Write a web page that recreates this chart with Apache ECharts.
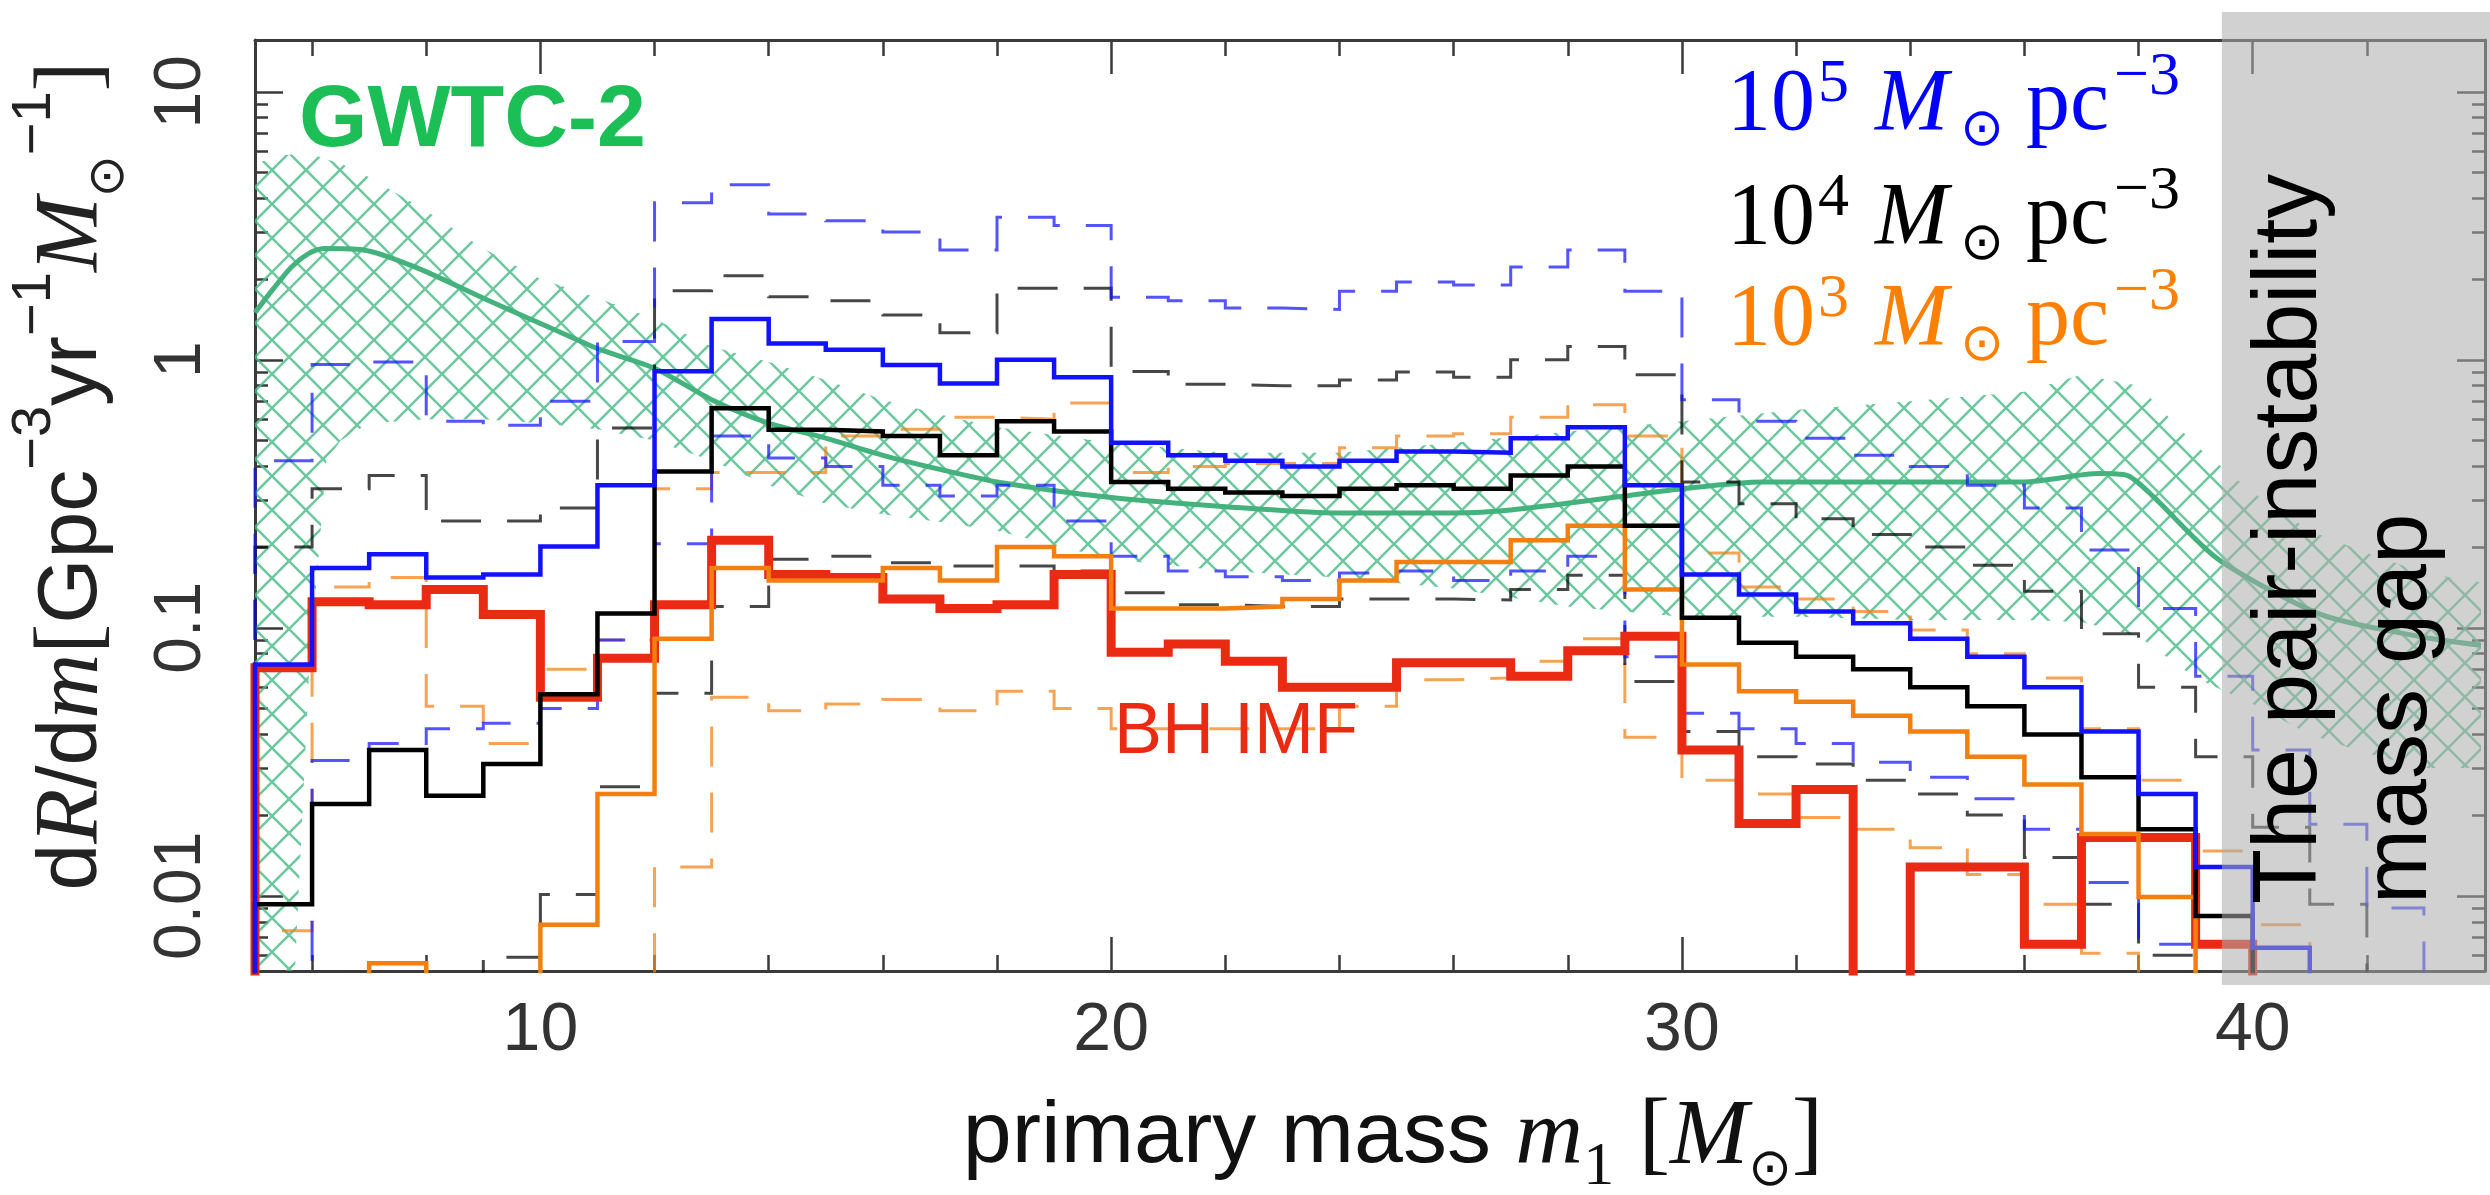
<!DOCTYPE html>
<html>
<head>
<meta charset="utf-8">
<script src="https://cdn.jsdelivr.net/npm/echarts@6/dist/echarts.min.js"></script>
<style>html,body{margin:0;padding:0;background:#fff}#c{width:2490px;height:1195px}</style>
</head>
<body>
<div id="c"></div>
<script>
// ---------------- data ----------------
// histogram bins of 1 Msun, first bin [5,6], last bin [43,44]
const binStart = 5;
const imfRed   = [0.071,0.125,0.122,0.139,0.112,0.055,0.077,0.122,0.212,0.158,0.154,0.128,0.118,0.122,0.158,0.081,0.087,0.075,0.060,0.060,0.074,0.074,0.066,0.082,0.093,0.035,0.0186,0.0249,0,0.0128,0.0128,0.0066,0.0165,0.0165,0.0066,0,0,0,0];
const rho5     = [0.073,0.167,0.188,0.154,0.158,0.201,0.34,0.906,1.42,1.15,1.09,0.955,0.815,1.0,0.86,0.49,0.44,0.42,0.40,0.42,0.455,0.45,0.51,0.56,0.34,0.158,0.133,0.115,0.104,0.091,0.078,0.060,0.041,0.024,0.0128,0.0064,0,0,0];
const rho5Hi   = [0.42,0.96,0.98,0.59,0.57,0.70,1.17,3.85,4.5,3.5,3.3,3.0,2.57,3.4,3.17,1.71,1.66,1.56,1.54,1.8,1.95,1.9,2.22,2.57,1.8,0.71,0.59,0.51,0.44,0.40,0.34,0.28,0.195,0.118,0.066,0.035,0.0185,0.009,0];
const rho5Lo   = [0,0.032,0.037,0.042,0.044,0.05,0.09,0.206,0.52,0.43,0.40,0.34,0.31,0.34,0.25,0.185,0.163,0.155,0.15,0.16,0.163,0.15,0.163,0.185,0.078,0.048,0.042,0.037,0.0315,0.0277,0.023,0.0177,0.0112,0.0066,0,0,0,0,0];
const rho4     = [0.0093,0.022,0.035,0.0236,0.031,0.0565,0.113,0.383,0.66,0.548,0.54,0.52,0.44,0.59,0.54,0.35,0.33,0.32,0.31,0.33,0.34,0.33,0.37,0.40,0.24,0.109,0.088,0.078,0.070,0.060,0.051,0.040,0.0277,0.0177,0.0084,0,0,0,0];
const rho4Hi   = [0.2,0.33,0.37,0.25,0.25,0.28,0.556,1.81,2.06,1.72,1.66,1.47,1.26,1.85,1.85,0.905,0.81,0.80,0.80,0.84,0.90,0.86,1.0,1.12,0.88,0.35,0.29,0.255,0.223,0.20,0.171,0.137,0.095,0.06,0.033,0.018,0.0093,0,0];
const rho4Lo   = [0,0,0,0,0.0059,0.0101,0.0255,0.057,0.12,0.18,0.185,0.175,0.17,0.17,0.163,0.135,0.122,0.12,0.12,0.128,0.128,0.127,0.139,0.157,0.063,0.041,0.033,0.031,0.027,0.024,0.020,0.0139,0.0093,0.006,0,0,0,0,0];
const rho3     = [0,0,0.0056,0,0,0.0078,0.024,0.091,0.167,0.15,0.15,0.167,0.15,0.20,0.185,0.118,0.118,0.12,0.128,0.15,0.176,0.176,0.212,0.24,0.139,0.073,0.058,0.053,0.047,0.041,0.033,0.026,0.017,0.0099,0,0,0,0,0];
const rho3Hi   = [0.0074,0.142,0.154,0.051,0.037,0.07,0.09,0.33,0.38,0.38,0.52,0.55,0.61,0.6,0.69,0.38,0.40,0.41,0.41,0.47,0.52,0.53,0.61,0.68,0.52,0.19,0.142,0.128,0.115,0.098,0.080,0.065,0.042,0.027,0.0147,0.0078,0,0,0];
const rho3Lo   = [0,0,0,0,0,0,0,0.0128,0.055,0.049,0.052,0.054,0.049,0.058,0.05,0.042,0.042,0.042,0.042,0.051,0.064,0.065,0.075,0.091,0.039,0.027,0.024,0.0196,0.0177,0.0151,0.012,0.0093,0.0061,0,0,0,0,0,0];

// GWTC-2 median and 90% band
const medMass = [5,5.33,5.64,5.95,6.2,6.9,7.8,9.1,10.3,11,12,13,14,15,16,17,18,20,22,24,26,27,29,30,31.4,33,36,37.3,37.8,38.25,39.4,41.2,42.9,44];
const medRate = [1.5,1.85,2.22,2.5,2.6,2.57,2.22,1.66,1.28,1.1,0.93,0.71,0.58,0.51,0.44,0.39,0.35,0.306,0.283,0.268,0.268,0.275,0.31,0.33,0.35,0.35,0.35,0.376,0.37,0.31,0.18,0.112,0.093,0.086];
const bandMass = [5,5.5,5.7,5.95,6.25,6.5,7,8,9,10,11,12,13,14,15,16,17,18,20,22,24,26,28,30,32,34,36,37,38,39,40,41,42,43,44];
const bandHigh = [5.4,5.8,5.85,5.9,5.6,5.4,4.8,3.6,2.6,2.0,1.7,1.42,1.12,0.98,0.84,0.71,0.625,0.56,0.49,0.45,0.45,0.49,0.54,0.59,0.65,0.70,0.76,0.88,0.80,0.48,0.32,0.23,0.19,0.16,0.148];
const bandLow  = [0.00525,0.00525,0.00525,0.07,0.42,0.5,0.58,0.6,0.6,0.58,0.55,0.5,0.42,0.34,0.29,0.265,0.248,0.23,0.18,0.163,0.154,0.14,0.12,0.11,0.11,0.107,0.107,0.105,0.093,0.065,0.052,0.04,0.034,0.03,0.03];

const gapStart = 39.46;          // left edge of the pair-instability gap shading
const xMajorTicks = [10,20,30,40];
const xMinorTicks = [6,8,12,14,16,18,22,24,26,28,32,34,36,38,42];
const yMajorTicks = [0.01,0.1,1,10];
const yMajorLabels = ['0.01','0.1','1','10'];
const yDecades = [0.001,0.01,0.1,1];

// ---------------- helpers ----------------
const X_MIN = 5, X_MAX = 44.07, Y_MIN = 0.00524, Y_MAX = 15.6, FLOOR = 1e-4;
const yMinorTicks = [];
yDecades.forEach(d => { for (let k = 2; k <= 9; k++) { const v = d * k; if (v > Y_MIN && v < Y_MAX) yMinorTicks.push(+v.toPrecision(3)); } });

function stepData(vals) {
  const out = [[binStart, FLOOR]];
  vals.forEach((v, i) => out.push([binStart + i, v > 0 ? v : FLOOR]));
  const last = vals[vals.length - 1];
  out.push([binStart + vals.length, last > 0 ? last : FLOOR]);
  return out;
}
function makeHatch() {
  const s = 34, c = document.createElement('canvas');
  c.width = s; c.height = s;
  const g = c.getContext('2d');
  g.strokeStyle = 'rgba(78,188,138,0.82)';
  g.lineWidth = 2.6;
  g.beginPath();
  for (const o of [-s, 0, s]) {
    g.moveTo(o - 3, -3); g.lineTo(o + s + 3, s + 3);
    g.moveTo(o + s + 3, -3); g.lineTo(o - 3, s + 3);
  }
  g.stroke();
  return c;
}
const hatch = makeHatch();

const FRAME = '#3a3a3a';
const C_BLUE = '#1212ff', C_BLACK = '#000000', C_ORANGE = '#f27f10', C_RED = '#ea2a12', C_GREEN = '#43b27d';

function histSeries(name, vals, color, width, dashed, z) {
  return {
    name, type: 'line', step: 'end', data: stepData(vals),
    showSymbol: false, symbol: 'none', silent: true, clip: true, z,
    lineStyle: { color, width, type: dashed ? [40, 26] : 'solid', opacity: dashed ? 0.72 : 1, join: 'miter' }
  };
}

function xAxisDef(pos, ticks, len, showLine, showLabel) {
  return {
    type: 'value', position: pos, min: X_MIN, max: X_MAX,
    axisLine: { show: showLine, onZero: false, lineStyle: { color: FRAME, width: 3 } },
    axisTick: { show: true, inside: true, length: len, customValues: ticks, lineStyle: { color: FRAME, width: 2.5 } },
    axisLabel: showLabel ? { show: true, customValues: ticks, fontSize: 68, color: '#333', fontFamily: 'Liberation Sans', margin: 26 } : { show: false },
    splitLine: { show: false }
  };
}
function yAxisDef(pos, ticks, len, showLine) {
  return {
    type: 'log', logBase: 10, position: pos, min: Y_MIN, max: Y_MAX,
    axisLine: { show: showLine, onZero: false, lineStyle: { color: FRAME, width: 3 } },
    axisTick: { show: true, inside: true, length: len, customValues: ticks, lineStyle: { color: FRAME, width: 2.5 } },
    axisLabel: { show: false },
    splitLine: { show: false }
  };
}

const chart = echarts.init(document.getElementById('c'), null, { renderer: 'canvas', width: 2490, height: 1195 });

const option = {
  animation: false,
  backgroundColor: '#ffffff',
  grid: { left: 255, right: 5, top: 40, bottom: 224, containLabel: false },
  xAxis: [
    xAxisDef('bottom', xMajorTicks, 34, true, true),
    xAxisDef('bottom', xMinorTicks, 16, false, false),
    xAxisDef('top', xMajorTicks, 34, true, false),
    xAxisDef('top', xMinorTicks, 16, false, false)
  ],
  yAxis: [
    yAxisDef('left', yMajorTicks, 28, true),
    yAxisDef('left', yMinorTicks, 13, false),
    yAxisDef('right', yMajorTicks, 28, true),
    yAxisDef('right', yMinorTicks, 13, false)
  ],
  series: [
    {
      name: 'GWTC-2 band', type: 'custom', silent: true, z: 1,
      data: [[bandMass[0], bandHigh[0]]],
      renderItem: (params, api) => {
        const pts = [];
        for (let i = 0; i < bandMass.length; i++) pts.push(api.coord([bandMass[i], bandHigh[i]]));
        for (let i = bandMass.length - 1; i >= 0; i--) pts.push(api.coord([bandMass[i], bandLow[i]]));
        return { type: 'polygon', shape: { points: pts }, style: { fill: { image: hatch, repeat: 'repeat' }, stroke: null } };
      }
    },
    {
      name: 'GWTC-2 median', type: 'line', data: medMass.map((m, i) => [m, medRate[i]]),
      smooth: 0.25, showSymbol: false, symbol: 'none', silent: true, z: 3,
      lineStyle: { color: C_GREEN, width: 5 }
    },
    histSeries('1e3 hi', rho3Hi, C_ORANGE, 3, true, 4),
    histSeries('1e3 lo', rho3Lo, C_ORANGE, 3, true, 4),
    histSeries('1e4 hi', rho4Hi, C_BLACK, 3, true, 4),
    histSeries('1e4 lo', rho4Lo, C_BLACK, 3, true, 4),
    histSeries('1e5 hi', rho5Hi, C_BLUE, 3, true, 4),
    histSeries('1e5 lo', rho5Lo, C_BLUE, 3, true, 4),
    histSeries('BH IMF', imfRed, C_RED, 9, false, 5),
    histSeries('1e3', rho3, C_ORANGE, 4.5, false, 6),
    histSeries('1e4', rho4, C_BLACK, 4.5, false, 7),
    histSeries('1e5', rho5, C_BLUE, 4.5, false, 8)
  ]
};
chart.setOption(option);

// ---------------- annotations ----------------
const gapX = chart.convertToPixel({ xAxisIndex: 0 }, gapStart);
const legendRich = (color) => ({
  n: { fontSize: 88, fontFamily: 'Liberation Serif', fill: color, lineHeight: 140 },
  s: { fontSize: 62, fontFamily: 'Liberation Serif', fill: color, lineHeight: 140, padding: [0, 0, 42, 3] },
  t: { fontSize: 62, fontFamily: 'Liberation Serif', fill: color, lineHeight: 140, padding: [0, 0, 56, 5] },
  m: { fontSize: 88, fontFamily: 'Liberation Serif', fontStyle: 'italic', fill: color, lineHeight: 140, padding: [0, 8, 0, 4] },
  o: { fontSize: 52, fontFamily: 'DejaVu Sans', fill: color, lineHeight: 140, padding: [50, 0, 0, 4] }
});
const legendLine = (exp, color, y) => ({
  type: 'text', x: 1727, y, z: 50,
  style: { text: '{n|10}{s|' + exp + '}{n| }{m|M}{o|⊙}{n| pc}{t|−3}', rich: legendRich(color), align: 'left', verticalAlign: 'middle' }
});
const yTickLabels = yMajorTicks.map((v, i) => ({
  type: 'text', x: 182, y: chart.convertToPixel({ yAxisIndex: 0 }, v), rotation: Math.PI / 2, z: 50,
  style: { text: yMajorLabels[i], fontSize: 66, fontFamily: 'Liberation Sans', fill: '#333', align: 'center', verticalAlign: 'middle' }
}));

chart.setOption({
  graphic: yTickLabels.concat([
    legendLine('5', '#0000ff', 106),
    legendLine('4', '#000000', 220),
    legendLine('3', '#ff7f00', 321),
    {
      type: 'text', x: 299, y: 122, z: 50,
      style: { text: 'GWTC-2', fontSize: 88, fontWeight: 'bold', fontFamily: 'Liberation Sans', fill: '#1cbe56', align: 'left', verticalAlign: 'middle' }
    },
    {
      type: 'text', x: 1114, y: 733, z: 50,
      style: { text: 'BH IMF', fontSize: 72, fontFamily: 'Liberation Sans', fill: '#ea2b14', align: 'left', verticalAlign: 'middle' }
    },
    {
      type: 'rect', z: 100, silent: true,
      shape: { x: gapX, y: 12, width: 2490 - gapX, height: 973 },
      style: { fill: 'rgba(172,172,172,0.55)' }
    },
    {
      type: 'text', x: 2291, y: 904, rotation: Math.PI / 2, z: 101,
      style: { text: 'The pair-instability', fontSize: 90, fontFamily: 'Liberation Sans', fill: '#000', align: 'left', verticalAlign: 'middle' }
    },
    {
      type: 'text', x: 2401, y: 904, rotation: Math.PI / 2, z: 101,
      style: { text: 'mass gap', fontSize: 90, fontFamily: 'Liberation Sans', fill: '#000', align: 'left', verticalAlign: 'middle' }
    },
    {
      type: 'text', x: 1393, y: 1138, z: 50,
      style: {
        text: '{a|primary mass }{m|m}{u|1}{a| }{b|[}{m|M}{o|⊙}{b|]}', align: 'center', verticalAlign: 'middle',
        rich: {
          a: { fontSize: 88, fontFamily: 'Liberation Sans', fill: '#111', lineHeight: 140 },
          m: { fontSize: 94, fontFamily: 'Liberation Serif', fontStyle: 'italic', fill: '#111', lineHeight: 140 },
          b: { fontSize: 94, fontFamily: 'Liberation Serif', fill: '#111', lineHeight: 140 },
          u: { fontSize: 62, fontFamily: 'Liberation Serif', fill: '#111', lineHeight: 140, padding: [60, 0, 0, 0] },
          o: { fontSize: 52, fontFamily: 'DejaVu Sans', fill: '#111', lineHeight: 140, padding: [66, 0, 0, 0] }
        }
      }
    },
    {
      type: 'text', x: 73, y: 476, rotation: Math.PI / 2, z: 50,
      style: {
        text: '{a|d}{r|R}{a|/d}{r|m}{b|[}{a|Gpc}{s|−3}{a|yr}{s|−1}{r|M}{o|⊙}{s|−1}{b|]}', align: 'center', verticalAlign: 'middle',
        rich: {
          a: { fontSize: 84, fontFamily: 'Liberation Sans', fill: '#222', lineHeight: 140 },
          r: { fontSize: 90, fontFamily: 'Liberation Serif', fontStyle: 'italic', fill: '#222', lineHeight: 140 },
          b: { fontSize: 90, fontFamily: 'Liberation Serif', fill: '#222', lineHeight: 140 },
          s: { fontSize: 56, fontFamily: 'Liberation Sans', fill: '#222', lineHeight: 140, padding: [0, 0, 76, 0] },
          o: { fontSize: 50, fontFamily: 'DejaVu Sans', fill: '#222', lineHeight: 140, padding: [74, 0, 0, 0] }
        }
      }
    }
  ])
});
</script>
</body>
</html>
